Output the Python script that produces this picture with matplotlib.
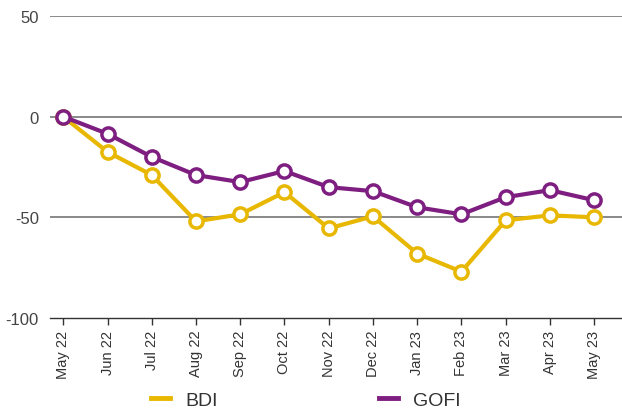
import matplotlib.pyplot as plt

plt.rcParams['font.family'] = ['Liberation Sans', 'DejaVu Sans']
plt.rcParams['axes.unicode_minus'] = False

months = ['May 22', 'Jun 22', 'Jul 22', 'Aug 22', 'Sep 22', 'Oct 22', 'Nov 22',
          'Dec 22', 'Jan 23', 'Feb 23', 'Mar 23', 'Apr 23', 'May 23']
bdi = [0, -17.5, -29, -52, -48.5, -37.5, -55.5, -49.5, -68, -77, -51.5, -49, -50]
gofi = [0, -8.5, -20, -29, -32.5, -27, -35, -37, -45, -48.5, -40, -36.5, -41.5]

gold = '#E8B700'
purple = '#7E1E80'

fig = plt.figure(figsize=(6.22, 4.14), dpi=100)
ax = fig.add_axes([50 / 622, 1 - 319 / 414, 572 / 622, 302 / 414])

x = range(len(months))
ax.plot(x, bdi, color=gold, lw=3, marker='o', ms=9.5, mfc='white', mec=gold, mew=2.5,
        label='BDI', zorder=3)
ax.plot(x, gofi, color=purple, lw=3, marker='o', ms=9.5, mfc='white', mec=purple, mew=2.5,
        label='GOFI', zorder=3)

ax.set_ylim(-100, 50)
ax.set_xlim(-0.3, 12.63)
ax.set_yticks([-100, -50, 0, 50])
ax.set_xticks(list(x))
ax.set_xticklabels(months, rotation=90, fontsize=10.5, color='#333333')
ax.tick_params(axis='y', length=0, labelsize=12, labelcolor='#444444', pad=8)
ax.tick_params(axis='x', length=5, color='#333333', width=1)

for y in [-50, 0, 50]:
    ax.axhline(y, color='#808080', lw=1.3, zorder=1)

for s in ['top', 'right', 'left']:
    ax.spines[s].set_visible(False)
ax.spines['bottom'].set_color('#333333')
ax.spines['bottom'].set_linewidth(1)

leg = fig.legend(handles=ax.get_lines(), labels=['BDI', 'GOFI'], loc='center left',
                 bbox_to_anchor=(151 / 622, 1 - 401 / 414), ncol=2, frameon=False,
                 fontsize=14, borderpad=0, borderaxespad=0, columnspacing=8.3,
                 handlelength=1.0, handletextpad=0.75)
for h in leg.legend_handles:
    h.set_marker('')
    h.set_linewidth(3.5)
for t in leg.get_texts():
    t.set_color('#333333')

fig.savefig('out.png', dpi=100)
